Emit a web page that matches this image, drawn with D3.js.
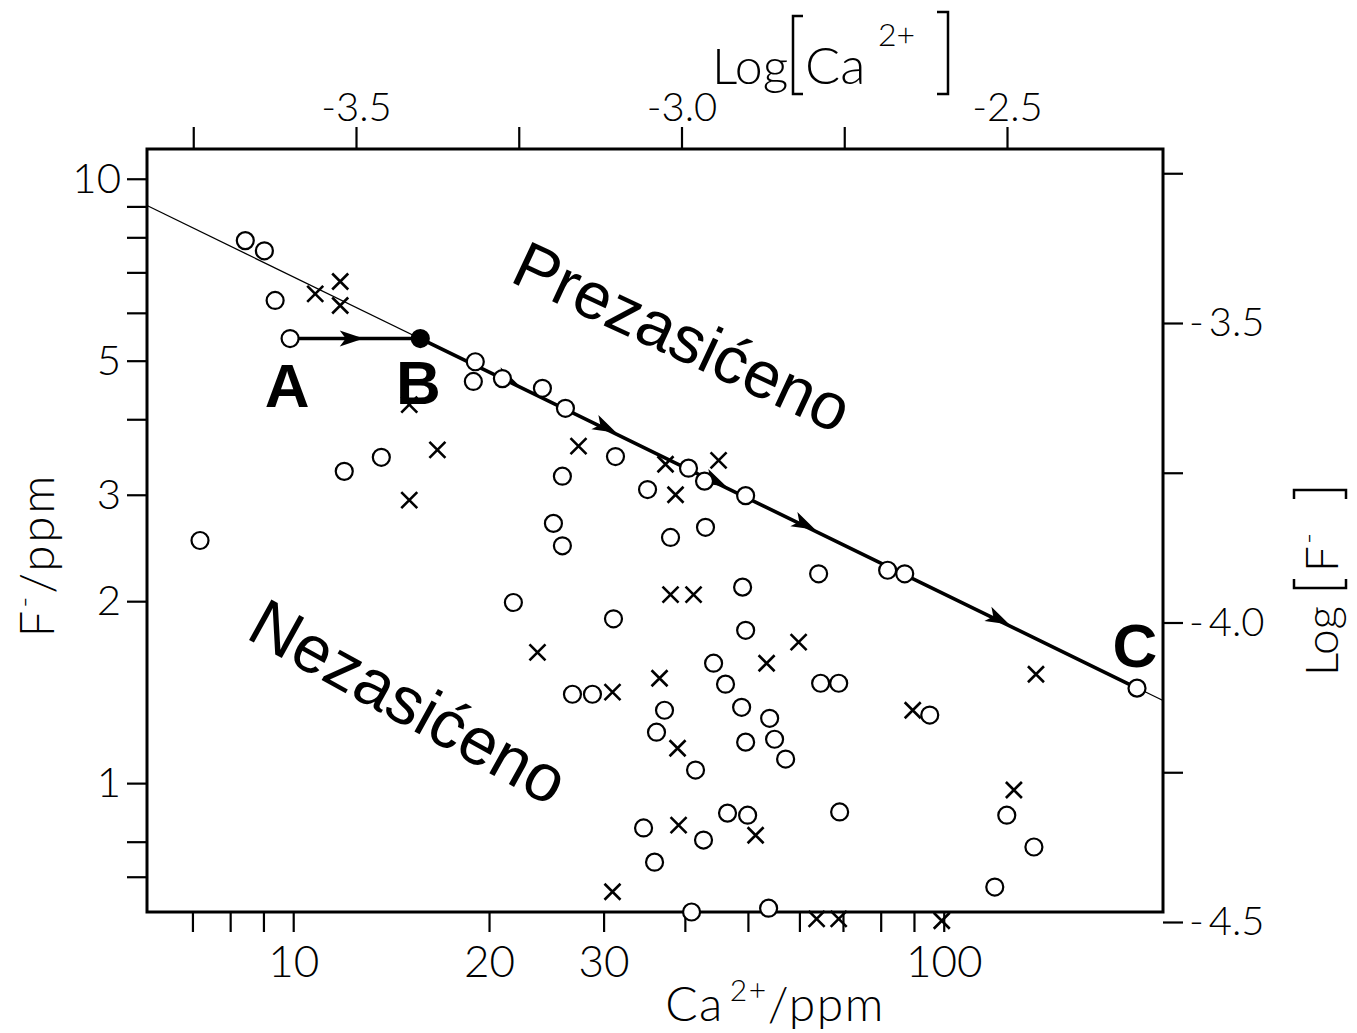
<!DOCTYPE html>
<html>
<head>
<meta charset="utf-8">
<script src="https://cdn.jsdelivr.net/npm/d3@7"></script>
<style>
	body { margin: 0; background: #fff; }
	svg { display: block; }
</style>
</head>
<body>
<div id="chart"></div>
<script>
// open circles: Ca2+ (ppm) and F- (ppm)
const circleCa = [8.44, 9.03, 9.38, 19.05, 18.92, 20.97, 24.16, 26.21, 11.98, 13.66, 7.19, 31.29, 25.93, 25.12, 25.93, 35.05, 38.02, 40.52, 42.88, 43.03, 49.6, 21.8, 31.07, 49.07, 49.6, 64.22, 81.99, 87.1, 26.87, 28.84, 37.22, 36.18, 44.28, 46.19, 48.9, 49.6, 54.0, 54.95, 57.14, 41.54, 64.68, 68.95, 95.17, 34.56, 35.93, 42.73, 46.52, 49.95, 69.18, 125.0, 137.6, 119.8, 53.8, 40.96];
const circleF = [7.9, 7.6, 6.29, 4.98, 4.62, 4.67, 4.5, 4.17, 3.28, 3.46, 2.52, 3.47, 3.22, 2.69, 2.47, 3.06, 2.55, 3.32, 3.16, 2.65, 2.99, 1.99, 1.87, 2.11, 1.79, 2.22, 2.25, 2.22, 1.403, 1.403, 1.32, 1.214, 1.579, 1.458, 1.335, 1.169, 1.28, 1.182, 1.096, 1.051, 1.463, 1.463, 1.296, 0.843, 0.74, 0.805, 0.892, 0.885, 0.896, 0.885, 0.784, 0.673, 0.621, 0.612];

// crosses
const crossCa = [10.81, 11.81, 11.81, 15.08, 16.66, 15.08, 27.45, 23.74, 30.96, 37.35, 38.7, 38.02, 41.25, 45.07, 59.83, 53.42, 36.57, 38.98, 39.12, 51.38, 30.96, 89.6, 138.6, 128.2, 63.77, 68.95, 99.3];
const crossF = [6.45, 6.76, 6.17, 4.23, 3.56, 2.94, 3.61, 1.646, 1.414, 3.37, 3.0, 2.05, 2.05, 3.42, 1.711, 1.579, 1.491, 1.142, 0.852, 0.82, 0.661, 1.32, 1.514, 0.974, 0.596, 0.596, 0.592];

// saturation line (CaF2) ends
const satCa = [5.96, 217.3];
const satF = [9.03, 1.37];

// path A -> B -> C
const pathNames = ["A", "B", "C"];
const pathCa = [9.89, 15.68, 198.2];
const pathF = [5.44, 5.44, 1.436];

// arrow heads along the path (segment index they belong to)
const arrowCa = [12.7, 22.0, 31.1, 45.9, 62.9, 125.0];
const arrowF = [5.44, 4.58, 3.82, 3.11, 2.64, 1.84];
const arrowSeg = [0, 1, 1, 1, 1, 1];

// ticks
const caTicks = [7, 8, 9, 10, 20, 30, 40, 50, 60, 70, 80, 90, 100];
const caLabels = [10, 20, 30, 100];
const fTicks = [10, 9, 8, 7, 6, 5, 4, 3, 2, 1, 0.8, 0.7];
const fLabels = [10, 5, 3, 2, 1];
const logCaTicks = [-3.75, -3.5, -3.25, -3.0, -2.75, -2.5];
const logCaLabels = [-3.5, -3.0, -2.5];
const logFTicks = [-3.25, -3.5, -3.75, -4.0, -4.25, -4.5];
const logFLabels = [-3.5, -4.0, -4.5];

const W = 1357, H = 1033;
const frame = { left: 147, right: 1163, top: 149, bottom: 912 };
const TICK_FONT = "Lato, 'Open Sans', sans-serif";
const BIG_FONT = "'Liberation Sans', Arial, sans-serif";

let x = d3.scaleLog().domain([5.96, 217.3]).range([frame.left, frame.right]);
let y = d3.scaleLog().domain([0.612, 11.2]).range([frame.bottom, frame.top]);
let xTop = d3.scaleLinear().domain([-3.5, -2.5]).range([356, 1007]);
let yRight = d3.scaleLinear().domain([-4.5, -3.5]).range([922, 323]);

let svg = d3
	.select("#chart")
	.append("svg")
	.attr("width", W)
	.attr("height", H);

function styleAxis(g, size) {
	g.attr("font-family", TICK_FONT)
		.attr("font-size", size)
		.attr("font-weight", 300);
	g.select(".domain").remove();
	g.selectAll(".tick line").attr("stroke", "#000").attr("stroke-width", 2.2);
	g.selectAll(".tick text").attr("fill", "#000");
}

// bottom axis
svg.append("g")
	.attr("transform", "translate(0," + frame.bottom + ")")
	.call(
		d3.axisBottom(x)
			.tickValues(caTicks)
			.tickFormat(function (d) { return caLabels.includes(d) ? d : ""; })
			.tickSize(20)
			.tickPadding(14)
	)
	.call(styleAxis, 44);

// left axis
svg.append("g")
	.attr("transform", "translate(" + frame.left + ",0)")
	.call(
		d3.axisLeft(y)
			.tickValues(fTicks)
			.tickFormat(function (d) { return fLabels.includes(d) ? d : ""; })
			.tickSize(20)
			.tickPadding(6)
	)
	.call(styleAxis, 42);

// top axis  Log[Ca2+]
svg.append("g")
	.attr("transform", "translate(0," + frame.top + ")")
	.call(
		d3.axisTop(xTop)
			.tickValues(logCaTicks)
			.tickFormat(function (d) { return logCaLabels.includes(d) ? d.toFixed(1) : ""; })
			.tickSize(22)
			.tickPadding(6)
	)
	.call(styleAxis, 40);

// right axis  Log[F-]
svg.append("g")
	.attr("transform", "translate(" + frame.right + ",0)")
	.call(
		d3.axisRight(yRight)
			.tickValues(logFTicks)
			.tickFormat(function (d) {
				return logFLabels.includes(d) ? "-\u2009" + Math.abs(d).toFixed(1) : "";
			})
			.tickSize(20)
			.tickPadding(6)
	)
	.call(styleAxis, 40);

// frame
svg.append("rect")
	.attr("x", frame.left)
	.attr("y", frame.top)
	.attr("width", frame.right - frame.left)
	.attr("height", frame.bottom - frame.top)
	.attr("fill", "none")
	.attr("stroke", "#000")
	.attr("stroke-width", 3);

let line = d3.line()
	.x(function (d) { return x(d[0]); })
	.y(function (d) { return y(d[1]); });

// thin saturation line
svg.append("path")
	.attr("d", line(d3.zip(satCa, satF)))
	.attr("fill", "none")
	.attr("stroke", "#000")
	.attr("stroke-width", 1.3);

// thick A-B-C path
svg.append("path")
	.attr("d", line(d3.zip(pathCa, pathF)))
	.attr("fill", "none")
	.attr("stroke", "#000")
	.attr("stroke-width", 3.6);

// arrow heads
svg.append("g")
	.selectAll("path")
	.data(d3.range(arrowCa.length))
	.join("path")
	.attr("d", "M3,0L-21,-8L-15,0L-21,8Z")
	.attr("fill", "#000")
	.attr("transform", function (i) {
		const s = arrowSeg[i];
		const ang = Math.atan2(
			y(pathF[s + 1]) - y(pathF[s]),
			x(pathCa[s + 1]) - x(pathCa[s])
		) * 180 / Math.PI;
		return "translate(" + x(arrowCa[i]) + "," + y(arrowF[i]) + ") rotate(" + ang + ")";
	});

// crosses
svg.append("g")
	.selectAll("path")
	.data(d3.zip(crossCa, crossF))
	.join("path")
	.attr("d", "M-8,-8L8,8M8,-8L-8,8")
	.attr("transform", function (d) { return "translate(" + x(d[0]) + "," + y(d[1]) + ")"; })
	.attr("stroke", "#000")
	.attr("stroke-width", 2.6)
	.attr("fill", "none");

// circles
svg.append("g")
	.selectAll("circle")
	.data(d3.zip(circleCa, circleF))
	.join("circle")
	.attr("cx", function (d) { return x(d[0]); })
	.attr("cy", function (d) { return y(d[1]); })
	.attr("r", 8.5)
	.attr("fill", "#fff")
	.attr("stroke", "#000")
	.attr("stroke-width", 2.2);

// A, B, C points
svg.append("g")
	.selectAll("circle")
	.data(d3.range(pathCa.length))
	.join("circle")
	.attr("cx", function (i) { return x(pathCa[i]); })
	.attr("cy", function (i) { return y(pathF[i]); })
	.attr("r", 8.5)
	.attr("fill", function (i) { return pathNames[i] === "B" ? "#000" : "#fff"; })
	.attr("stroke", "#000")
	.attr("stroke-width", 2.2);

// A, B, C letters
const letterOffset = { A: [-3, 68], B: [-2, 65], C: [-2, -21] };
svg.append("g")
	.selectAll("text")
	.data(d3.range(pathCa.length))
	.join("text")
	.attr("x", function (i) { return x(pathCa[i]) + letterOffset[pathNames[i]][0]; })
	.attr("y", function (i) { return y(pathF[i]) + letterOffset[pathNames[i]][1]; })
	.attr("text-anchor", "middle")
	.attr("font-family", BIG_FONT)
	.attr("font-weight", "bold")
	.attr("font-size", 62)
	.text(function (i) { return pathNames[i]; });

// region labels
svg.append("text")
	.attr("transform", "translate(" + x(21.4) + "," + y(6.78) + ") rotate(25)")
	.attr("font-family", BIG_FONT)
	.attr("font-size", 66)
	.text("Prezasićeno");

svg.append("text")
	.attr("transform", "translate(" + x(8.41) + "," + y(1.743) + ") rotate(29)")
	.attr("font-family", BIG_FONT)
	.attr("font-size", 67)
	.text("Nezasićeno");

// axis titles
let leftTitle = svg.append("text")
	.attr("transform", "translate(54,555) rotate(-90)")
	.attr("text-anchor", "middle")
	.attr("font-family", TICK_FONT)
	.attr("font-weight", 300)
	.attr("font-size", 47)
	.attr("letter-spacing", 3);
leftTitle.append("tspan").text("F");
leftTitle.append("tspan").attr("dy", -20).attr("font-size", 30).text("-");
leftTitle.append("tspan").attr("dy", 20).text("/ppm");

let bottomTitle = svg.append("text")
	.attr("x", 775)
	.attr("y", 1021)
	.attr("text-anchor", "middle")
	.attr("font-family", TICK_FONT)
	.attr("font-weight", 300)
	.attr("font-size", 48)
	.attr("letter-spacing", 1.5);
bottomTitle.append("tspan").text("Ca");
bottomTitle.append("tspan").attr("dx", 6).attr("dy", -20).attr("font-size", 30).text("2+");
bottomTitle.append("tspan").attr("dy", 20).text("/ppm");

function bracket(g, x0, y0, y1, arm) {
	g.append("path")
		.attr("d", "M" + (x0 + arm) + "," + y0 + "H" + x0 + "V" + y1 + "H" + (x0 + arm))
		.attr("fill", "none")
		.attr("stroke", "#000")
		.attr("stroke-width", 2.5);
}

// top title  Log [Ca2+]
let topTitle = svg.append("g")
	.attr("font-family", TICK_FONT)
	.attr("font-weight", 300);
topTitle.append("text").attr("x", 712).attr("y", 84).attr("font-size", 50).text("Log");
bracket(topTitle, 793, 16, 94, 10);
topTitle.append("text").attr("x", 805).attr("y", 84).attr("font-size", 52).text("Ca");
topTitle.append("text").attr("x", 878).attr("y", 46).attr("font-size", 32).text("2+");
bracket(topTitle, 948, 12, 94, -11);

// right title  Log [F-]
let rightTitle = svg.append("g")
	.attr("transform", "translate(1338,676) rotate(-90)")
	.attr("font-family", TICK_FONT)
	.attr("font-weight", 300);
rightTitle.append("text").attr("x", 0).attr("y", 0).attr("font-size", 46).text("Log");
bracket(rightTitle, 88, -44, 8, 9);
rightTitle.append("text").attr("x", 104).attr("y", 0).attr("font-size", 46).text("F");
rightTitle.append("text").attr("x", 132).attr("y", -20).attr("font-size", 30).text("-");
bracket(rightTitle, 186, -44, 8, -9);
</script>
</body>
</html>
